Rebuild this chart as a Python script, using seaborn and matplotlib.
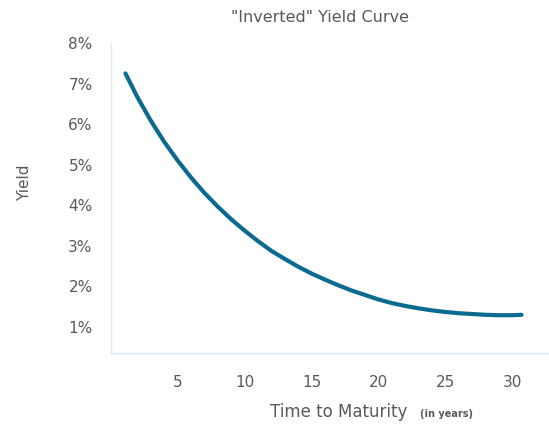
import matplotlib
matplotlib.use("Agg")
import matplotlib.pyplot as plt
import seaborn as sns
import pandas as pd

# Inverted yield curve: yield (%) by time to maturity (years)
maturity_years = [1.1, 2, 3, 4, 5, 6, 7, 8, 9, 10, 11, 12, 13, 14, 15, 16,
                  17, 18, 19, 20, 21, 22, 23, 24, 25, 26, 27, 28, 29, 30, 30.7]
yield_pct = [7.25, 6.66, 6.08, 5.56, 5.10, 4.68, 4.30, 3.96, 3.65, 3.37,
             3.11, 2.87, 2.67, 2.48, 2.31, 2.16, 2.02, 1.89, 1.78, 1.67,
             1.58, 1.51, 1.45, 1.40, 1.36, 1.33, 1.31, 1.29, 1.28, 1.28, 1.29]

x_ticks = [0, 5, 10, 15, 20, 25, 30]
x_tick_labels = ["", "5", "10", "15", "20", "25", "30"]
y_ticks = [1, 2, 3, 4, 5, 6, 7, 8]
y_tick_labels = [f"{v}%" for v in y_ticks]

df = pd.DataFrame({"maturity": maturity_years, "yield": yield_pct})

sns.set_theme(style="white")
plt.rcParams["font.family"] = ["DejaVu Sans"]

text_color = "#595959"
axis_color = "#dbe9f6"
line_color = "#0b6a8f"

W, H = 549, 426
fig = plt.figure(figsize=(W / 100, H / 100), dpi=100)
left, right, top, bottom = 110.7, 549, 43, 353.3
ax = fig.add_axes([left / W, 1 - bottom / H, (right - left) / W, (bottom - top) / H])

sns.lineplot(data=df, x="maturity", y="yield", ax=ax, color=line_color,
             linewidth=3.0, solid_capstyle="round", solid_joinstyle="round")

ax.set_xlim(0.08, 32.75)
ax.set_ylim(0.34, 8)

ax.set_xticks(x_ticks)
ax.set_xticklabels(x_tick_labels)
ax.set_yticks(y_ticks)
ax.set_yticklabels(y_tick_labels)

ax.tick_params(axis="x", length=3.6, width=1, color=axis_color, pad=12,
               labelsize=11, labelcolor=text_color, direction="out")
ax.tick_params(axis="y", length=0, pad=13, labelsize=11, labelcolor=text_color)

for side in ["top", "right"]:
    ax.spines[side].set_visible(False)
for side in ["left", "bottom"]:
    ax.spines[side].set_color(axis_color)
    ax.spines[side].set_linewidth(1.0)

ax.set_title('"Inverted" Yield Curve', fontsize=11.5, color=text_color,
             pad=15, x=0.4775)

ax.set_ylabel("Yield", fontsize=11, color=text_color)
ax.yaxis.set_label_coords(-0.18, 0.55)

ax.set_xlabel("Time to Maturity", fontsize=12, color=text_color)
ax.xaxis.label.set_verticalalignment("center")
ax.xaxis.set_label_coords(0.52, -0.189)
ax.annotate("(in years)", xy=(1, 0), xycoords=ax.xaxis.label,
            xytext=(9, 1.5), textcoords="offset points",
            fontsize=7, fontweight="semibold", color=text_color,
            va="bottom", ha="left")

fig.savefig("out.png", dpi=100, facecolor="white")
